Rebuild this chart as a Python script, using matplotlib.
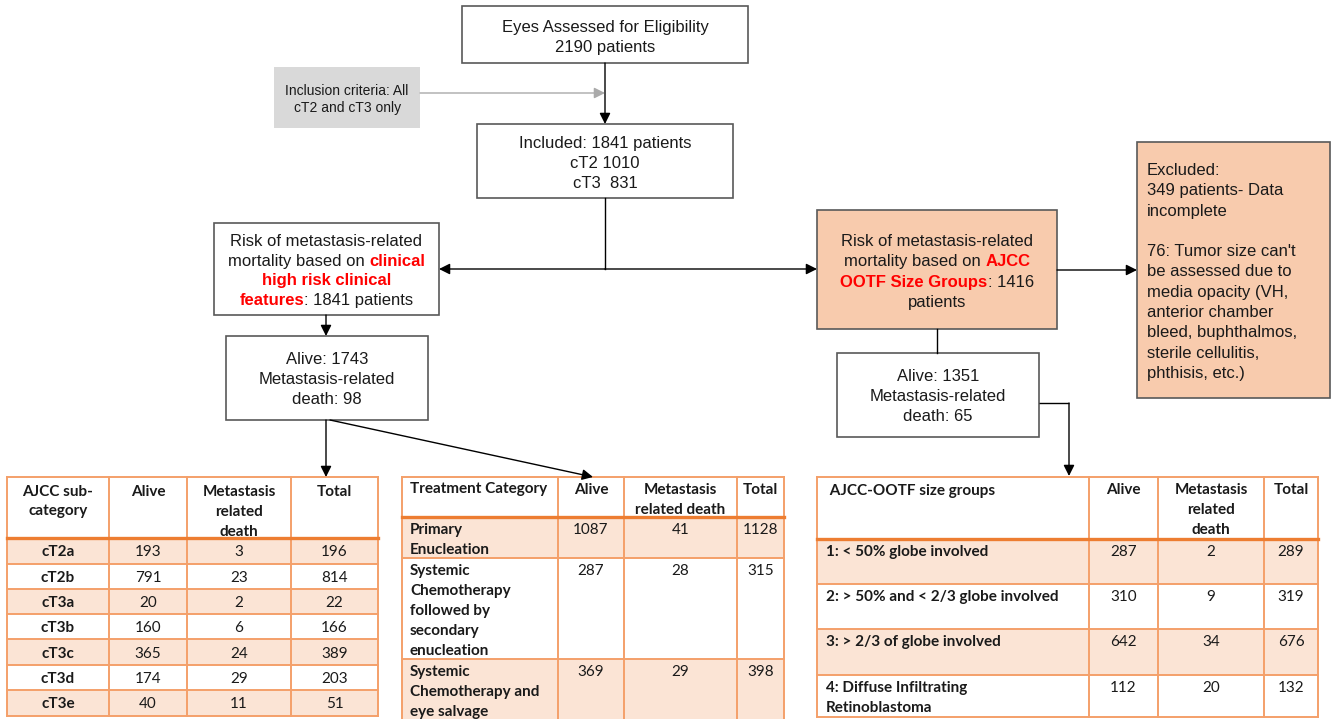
import matplotlib.pyplot as plt
from matplotlib.patches import Rectangle

# flowchart counts
assessed = 2190
included = 1841
included_ct2 = 1010
included_ct3 = 831
clinical_n = 1841
clinical_alive = 1743
clinical_death = 98
size_n = 1416
size_alive = 1351
size_death = 65
excluded_incomplete = 349
excluded_opacity = 76

# table 1: AJCC sub-category
ajcc_header = ["AJCC sub-\ncategory", "Alive", "Metastasis\nrelated\ndeath", "Total"]
ajcc_sub = ["cT2a", "cT2b", "cT3a", "cT3b", "cT3c", "cT3d", "cT3e"]
ajcc_alive = [193, 791, 20, 160, 365, 174, 40]
ajcc_death = [3, 23, 2, 6, 24, 29, 11]
ajcc_total = [196, 814, 22, 166, 389, 203, 51]

# table 2: treatment category
treat_header = ["Treatment Category", "Alive", "Metastasis\nrelated death", "Total"]
treat_cat = ["Primary\nEnucleation",
             "Systemic\nChemotherapy\nfollowed by\nsecondary\nenucleation",
             "Systemic\nChemotherapy and\neye salvage"]
treat_alive = [1087, 287, 369]
treat_death = [41, 28, 29]
treat_total = [1128, 315, 398]

# table 3: AJCC-OOTF size groups
size_header = [" AJCC-OOTF size groups", "Alive", "Metastasis\nrelated\ndeath", "Total"]
size_groups = ["1: < 50% globe involved", "2: > 50% and < 2/3 globe involved",
               "3: > 2/3 of globe involved", "4: Diffuse Infiltrating\nRetinoblastoma"]
size_g_alive = [287, 310, 642, 112]
size_g_death = [2, 9, 34, 20]
size_g_total = [289, 319, 676, 132]

W, H = 1336, 719
fig = plt.figure(figsize=(W / 100, H / 100), dpi=100)
ax = fig.add_axes([0, 0, 1, 1])
ax.set_xlim(0, W)
ax.set_ylim(H, 0)
ax.axis('off')
renderer = fig.canvas.get_renderer()

FLOW = dict(family='Liberation Sans', fontsize=12, color='#1a1a1a')
RED = dict(family='Liberation Sans', fontsize=12, color='#ff0000', weight='bold')
TAB = dict(family='Lato', fontsize=11, color='#1a1a1a')
TABB = dict(TAB, weight='bold')
EDGE = '#595959'
ORANGE = '#f4a06a'
DARK_ORANGE = '#ed7d31'
SHADE = '#fbe4d5'
PEACH = '#f8cbad'


def measure(s, props):
    t = ax.text(0, 0, s, **props)
    w = t.get_window_extent(renderer).width
    t.remove()
    return w


def seg_width(s, props):
    return measure("." + s + ".", props) - measure("..", props)


def draw_lines(x, y0, lines, spacing, ha='center'):
    # every line is a list of (text, props) segments
    for i, segs in enumerate(lines):
        if not segs:
            continue
        widths = [seg_width(s, p) for s, p in segs]
        total = sum(widths)
        start = x - total / 2 if ha == 'center' else x
        fs = segs[0][1]['fontsize'] * 100 / 72
        yb = y0 + i * spacing + 0.36 * fs
        for (s, p), w in zip(segs, widths):
            ax.text(start, yb, s, ha='left', va='baseline', **p)
            start += w


def plain(text, props):
    return [[(ln, props)] if ln else [] for ln in text.split("\n")]


def box(x0, y0, x1, y1, fc='white', ec=EDGE):
    ax.add_patch(Rectangle((x0, y0), x1 - x0, y1 - y0, fc=fc,
                           ec=ec if ec else 'none', lw=1.2, zorder=1))


def connect(pts, color='black', head=True):
    xs = [p[0] for p in pts]
    ys = [p[1] for p in pts]
    if head:
        ax.plot(xs[:-1], ys[:-1], color=color, lw=1, solid_capstyle='butt')
        ax.annotate('', xy=pts[-1], xytext=pts[-2],
                    arrowprops=dict(arrowstyle='-|>,head_length=0.5,head_width=0.25',
                                    color=color, lw=1, shrinkA=0, shrinkB=0,
                                    mutation_scale=13))
    else:
        ax.plot(xs, ys, color=color, lw=1)


# ---- flowchart boxes
box(462, 6, 748, 63)
draw_lines(605, 26, plain(f"Eyes Assessed for Eligibility\n{assessed} patients", FLOW), 20)

box(274, 67, 420, 128, fc='#d9d9d9', ec=None)
SMALL = dict(FLOW, fontsize=10)
draw_lines(347, 90, plain("Inclusion criteria: All\ncT2 and cT3 only", SMALL), 17)

box(477, 124, 733, 198)
draw_lines(605, 142, plain(f"Included: {included} patients\ncT2 {included_ct2}\ncT3  {included_ct3}", FLOW), 20)

box(214, 223, 439, 315)
draw_lines(326.5, 240, [
    [("Risk of metastasis-related", FLOW)],
    [("mortality based on ", FLOW), ("clinical", RED)],
    [("high risk clinical", RED)],
    [("features", RED), (f": {clinical_n} patients", FLOW)],
], 19.7)

box(226, 336, 428, 420)
draw_lines(327, 358, plain(f"Alive: {clinical_alive}\nMetastasis-related\ndeath: {clinical_death}", FLOW), 20)

box(817, 210, 1057, 329, fc=PEACH)
draw_lines(937, 240, [
    [("Risk of metastasis-related", FLOW)],
    [("mortality based on ", FLOW), ("AJCC", RED)],
    [("OOTF Size Groups", RED), (f": {size_n}", FLOW)],
    [("patients", FLOW)],
], 20.3)

box(837, 353, 1039, 437)
draw_lines(938, 375, plain(f"Alive: {size_alive}\nMetastasis-related\ndeath: {size_death}", FLOW), 20)

box(1137, 142, 1330, 398, fc=PEACH)
draw_lines(1147, 169, plain(
    f"Excluded:\n{excluded_incomplete} patients- Data\nincomplete\n\n"
    f"{excluded_opacity}: Tumor size can't\nbe assessed due to\nmedia opacity (VH,\n"
    "anterior chamber\nbleed, buphthalmos,\nsterile cellulitis,\nphthisis, etc.)", FLOW),
    20.3, ha='left')

# ---- connectors
connect([(605, 63), (605, 124)])
connect([(420, 93), (605, 93)], color='#aaaaaa')
connect([(605, 198), (605, 269)], head=False)
connect([(605, 269), (439, 269)])
connect([(605, 269), (817, 269)])
connect([(326, 315), (326, 336)])
connect([(937, 329), (937, 353)], head=False)
connect([(1057, 270), (1137, 270)])
connect([(326, 420), (326, 477)])
connect([(330, 420), (593, 477)])
connect([(1039, 403), (1069, 403), (1069, 476)])


# ---- tables
def table(xs, ys, header, body, shade, left_first, pad, head_pad, center_body):
    nrows = len(body) + 1
    for r in range(1, nrows):
        if (r - 1) in shade:
            ax.add_patch(Rectangle((xs[0], ys[r]), xs[-1] - xs[0], ys[r + 1] - ys[r],
                                   fc=SHADE, ec='none', zorder=1))
    for y in ys:
        ax.plot([xs[0], xs[-1]], [y, y], color=ORANGE, lw=1.4, zorder=2)
    for x in xs:
        ax.plot([x, x], [ys[0], ys[-1]], color=ORANGE, lw=1.4, zorder=2)
    ax.plot([xs[0], xs[-1]], [ys[1], ys[1]], color=DARK_ORANGE, lw=2.4, zorder=3)

    for r, row in enumerate([header] + body):
        for c, txt in enumerate(row):
            props = TABB if (r == 0 or c == 0) else TAB
            if c == 0 and left_first:
                x, ha = xs[0] + pad, 'left'
            else:
                x, ha = (xs[c] + xs[c + 1]) / 2, 'center'
            if r == 0:
                y = ys[0] + head_pad
            elif center_body:
                y = (ys[r] + ys[r + 1]) / 2
            else:
                y = ys[r] + 11.5
            draw_lines(x, y, plain(txt, props), 20, ha=ha)


t1_body = [[s, str(a), str(d), str(t)] for s, a, d, t in
           zip(ajcc_sub, ajcc_alive, ajcc_death, ajcc_total)]
table([7, 109, 187, 291, 378], [477, 538, 564, 589, 614, 639, 665, 690, 716],
      ajcc_header, t1_body, {0, 2, 4, 6}, False, 0, 13, True)

t2_body = [[s, str(a), str(d), str(t)] for s, a, d, t in
           zip(treat_cat, treat_alive, treat_death, treat_total)]
table([402, 558, 624, 737, 784], [477, 517, 558, 659, 740],
      treat_header, t2_body, {0, 2}, True, 8, 11, False)

t3_body = [[s, str(a), str(d), str(t)] for s, a, d, t in
           zip(size_groups, size_g_alive, size_g_death, size_g_total)]
table([817, 1089, 1158, 1264, 1318], [477, 539, 584, 629, 675, 717],
      size_header, t3_body, {0, 2}, True, 9, 12, False)

fig.savefig('out.png', dpi=100)
